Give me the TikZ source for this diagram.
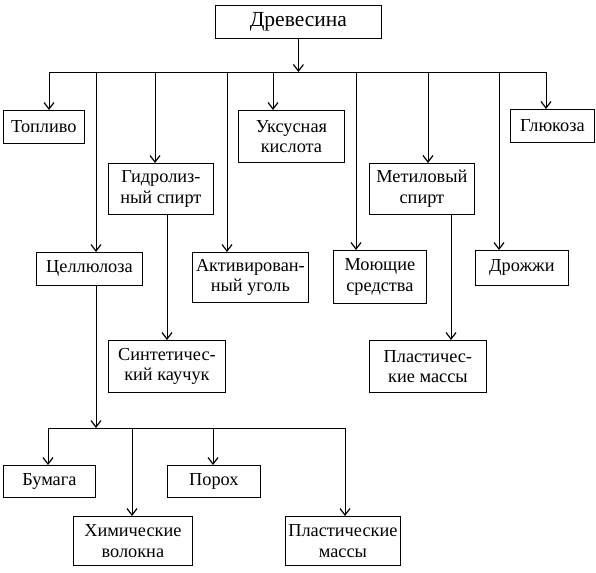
\documentclass[tikz,border=0pt]{standalone}
\usepackage{fontspec}
\setmainfont{Liberation Serif}
\usetikzlibrary{arrows.meta}
\begin{document}
\begin{tikzpicture}[x=1pt,y=-1pt,
  box/.style={draw, line width=0.8pt, anchor=north west, inner sep=0pt, align=center,
    font=\fontsize{18.3}{20.5}\selectfont},
  arr/.style={line width=0.8pt, -{Straight Barb[length=6.5pt,width=10pt,line width=1.2pt]}},
  ln/.style={line width=0.8pt}]
\useasboundingbox (0,0) rectangle (596,572);
% boxes
\node[box, minimum width=166pt, minimum height=33pt, font=\fontsize{21.5}{24}\selectfont] (drev) at (215,5) {Древесина};
\node[box, minimum width=81pt, minimum height=33pt] (topl) at (3,110) {Топливо};
\node[box, minimum width=105pt, minimum height=51pt] (gidr) at (108,163) {Гидролиз-\\ный спирт};
\node[box, minimum width=106pt, minimum height=33pt] (cell) at (36,252) {Целлюлоза};
\node[box, minimum width=116pt, minimum height=50pt] (akt) at (192,252) {Активирован-\\ный уголь};
\node[box, minimum width=106pt, minimum height=52pt] (uks) at (238,110) {Уксусная\\кислота};
\node[box, minimum width=93pt, minimum height=53pt] (moy) at (333,250) {Моющие\\средства};
\node[box, minimum width=105pt, minimum height=51pt] (met) at (369,163) {Метиловый\\спирт};
\node[box, minimum width=93pt, minimum height=35pt] (droz) at (475,250) {Дрожжи};
\node[box, minimum width=84pt, minimum height=33pt] (gluk) at (510,109) {Глюкоза};
\node[box, minimum width=117pt, minimum height=52pt] (sint) at (108,340) {Синтетичес-\\кий каучук};
\node[box, minimum width=117pt, minimum height=52pt] (plm) at (369,340) {Пластичес-\\кие массы};
\node[box, minimum width=92pt, minimum height=32pt] (bum) at (3,465) {Бумага};
\node[box, minimum width=93pt, minimum height=32pt] (por) at (167,465) {Порох};
\node[box, minimum width=119pt, minimum height=49pt] (him) at (73,516) {Химические\\волокна};
\node[box, minimum width=115pt, minimum height=49pt] (pls) at (285,516) {Пластические\\массы};
% upper bus
\coordinate (d1) at (49,72);
\coordinate (d2) at (96,72);
\coordinate (d3) at (155,72);
\coordinate (d4) at (227,72);
\coordinate (d5) at (273,72);
\coordinate (d6) at (356,72);
\coordinate (d7) at (428,72);
\coordinate (d8) at (499,72);
\coordinate (d9) at (546,72);
\draw[ln] (d1) -- (d9);
\draw[arr] (drev.south) -- (drev.south |- d1);
\draw[arr] (d1) -- (d1 |- topl.north);
\draw[arr] (d2) -- (d2 |- cell.north);
\draw[arr] (d3) -- (d3 |- gidr.north);
\draw[arr] (d4) -- (d4 |- akt.north);
\draw[arr] (d5) -- (d5 |- uks.north);
\draw[arr] (d6) -- (d6 |- moy.north);
\draw[arr] (d7) -- (d7 |- met.north);
\draw[arr] (d8) -- (d8 |- droz.north);
\draw[arr] (d9) -- (d9 |- gluk.north);
% side branches
\coordinate (gx) at (167,0);
\coordinate (mx) at (451,0);
\draw[arr] (gidr.south -| gx) -- (sint.north -| gx);
\draw[arr] (met.south -| mx) -- (plm.north -| mx);
% lower bus
\coordinate (c1) at (48,428);
\coordinate (c2) at (132,428);
\coordinate (c3) at (213,428);
\coordinate (c4) at (345,428);
\draw[ln] (c1) -- (c4);
\draw[arr] (cell.south -| d2) -- (d2 |- c1);
\draw[arr] (c1) -- (c1 |- bum.north);
\draw[arr] (c2) -- (c2 |- him.north);
\draw[arr] (c3) -- (c3 |- por.north);
\draw[arr] (c4) -- (c4 |- pls.north);
\end{tikzpicture}
\end{document}
